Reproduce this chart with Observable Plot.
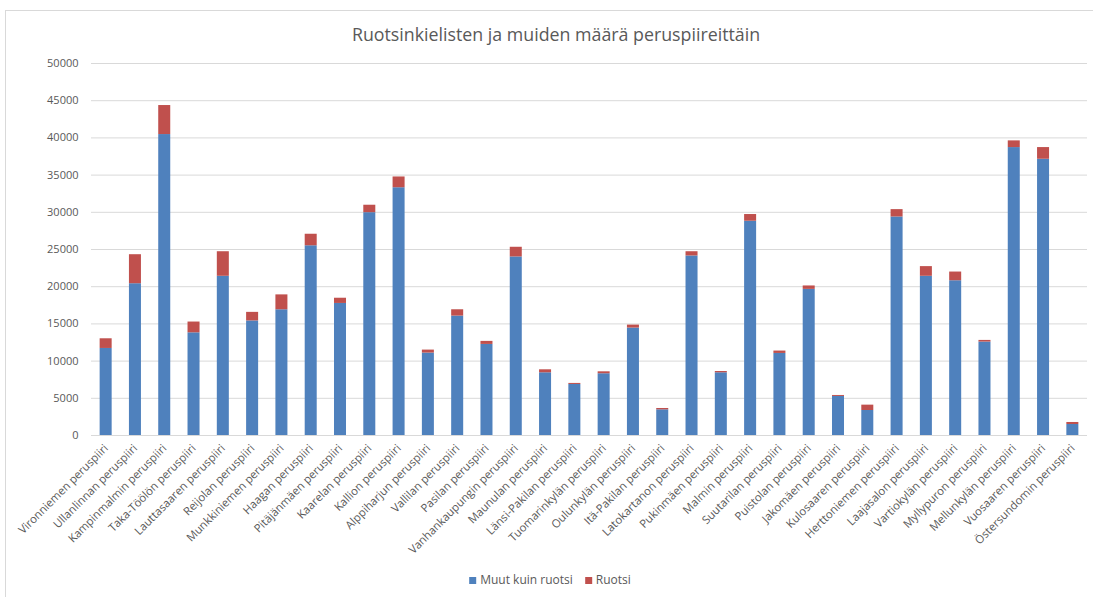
<!DOCTYPE html>
<html>
<head>
<meta charset="utf-8">
<script src="https://cdn.jsdelivr.net/npm/d3@7"></script>
<script src="https://cdn.jsdelivr.net/npm/@observablehq/plot@0.6"></script>
<style>
  html, body { margin: 0; padding: 0; background: #fff; }
  body { width: 1093px; height: 597px; position: relative; overflow: hidden; font-family: "Open Sans", sans-serif; color: #595959; }
  #frame { position: absolute; left: 5px; top: 10px; width: 1100px; height: 600px; border-left: 1px solid #d9d9d9; border-top: 1px solid #d9d9d9; }
  #title { position: absolute; top: 22px; left: 556px; transform: translateX(-50%); white-space: nowrap; font-size: 17.8px; line-height: 24px; color: #595959; }
  #chart { position: absolute; top: 50px; left: 0; }
  #legend { position: absolute; top: 571px; left: 556px; transform: translateX(-50%); white-space: nowrap; font-size: 12px; line-height: 18px; color: #595959; display: flex; align-items: center; }
  #legend .sw { display: inline-block; width: 7px; height: 7px; margin-right: 4px; }
  #legend .item { display: inline-flex; align-items: center; margin-right: 12px; }
</style>
</head>
<body>
<div id="frame"></div>
<div id="title">Ruotsinkielisten ja muiden määrä peruspiireittäin</div>
<div id="chart"></div>
<div id="legend"></div>
<script>
const districts = [
  "Vironniemen peruspiiri", "Ullanlinnan peruspiiri", "Kampinmalmin peruspiiri", "Taka-Töölön peruspiiri",
  "Lauttasaaren peruspiiri", "Reijolan peruspiiri", "Munkkiniemen peruspiiri", "Haagan peruspiiri",
  "Pitäjänmäen peruspiiri", "Kaarelan peruspiiri", "Kallion peruspiiri", "Alppiharjun peruspiiri",
  "Vallilan peruspiiri", "Pasilan peruspiiri", "Vanhankaupungin peruspiiri", "Maunulan peruspiiri",
  "Länsi-Pakilan peruspiiri", "Tuomarinkylän peruspiiri", "Oulunkylän peruspiiri", "Itä-Pakilan peruspiiri",
  "Latokartanon peruspiiri", "Pukinmäen peruspiiri", "Malmin peruspiiri", "Suutarilan peruspiiri",
  "Puistolan peruspiiri", "Jakomäen peruspiiri", "Kulosaaren peruspiiri", "Herttoniemen peruspiiri",
  "Laajasalon peruspiiri", "Vartiokylän peruspiiri", "Myllypuron peruspiiri", "Mellunkylän peruspiiri",
  "Vuosaaren peruspiiri", "Östersundomin peruspiiri"
];
const muut = [
  11700, 20400, 40450, 13800, 21400, 15400, 16900, 25500,
  17750, 29950, 33300, 11080, 16050, 12240, 24000, 8430,
  6860, 8300, 14440, 3450, 24130, 8430, 28800, 11030,
  19640, 5250, 3360, 29370, 21400, 20800, 12560, 38700,
  37130, 1480
];
const ruotsi = [
  1300, 3900, 3900, 1450, 3300, 1150, 2000, 1550,
  700, 1000, 1450, 400, 850, 410, 1300, 400,
  140, 260, 400, 180, 570, 170, 900, 320,
  460, 130, 720, 990, 1300, 1170, 220, 900,
  1570, 270
];
const seriesNames = ["Muut kuin ruotsi", "Ruotsi"];
const seriesColors = ["#4F81BD", "#C0504D"];
const yTicks = [0, 5000, 10000, 15000, 20000, 25000, 30000, 35000, 40000, 45000, 50000];

const rows = [];
districts.forEach((d, i) => {
  rows.push({district: d, series: seriesNames[0], value: muut[i]});
  rows.push({district: d, series: seriesNames[1], value: ruotsi[i]});
});

const chart = Plot.plot({
  width: 1093,
  height: 515,
  marginTop: 13,
  marginBottom: 130,
  marginLeft: 91,
  marginRight: 6,
  style: {fontFamily: "'Open Sans', sans-serif", fontSize: "11px", color: "#595959", background: "transparent"},
  x: {domain: districts, paddingInner: 0.59, paddingOuter: 0.295, round: false, label: null},
  y: {domain: [0, 50000], label: null},
  color: {domain: seriesNames, range: seriesColors},
  marks: [
    Plot.gridY(yTicks, {stroke: "#d9d9d9", strokeOpacity: 1, strokeWidth: 1}),
    Plot.axisY(yTicks, {tickSize: 0, tickPadding: 13, tickFormat: d => String(d), fontSize: 11, fill: "#595959", label: null}),
    Plot.axisX({tickSize: 0, tickPadding: 11, tickRotate: -45, fontSize: 11.3, fill: "#595959", label: null}),
    Plot.barY(rows, {x: "district", y: "value", fill: "series", order: seriesNames})
  ]
});
document.getElementById("chart").appendChild(chart);

const legend = document.getElementById("legend");
seriesNames.forEach((s, i) => {
  const item = document.createElement("span");
  item.className = "item";
  const sw = document.createElement("span");
  sw.className = "sw";
  sw.style.background = seriesColors[i];
  item.appendChild(sw);
  item.appendChild(document.createTextNode(s));
  legend.appendChild(item);
});
</script>
</body>
</html>
